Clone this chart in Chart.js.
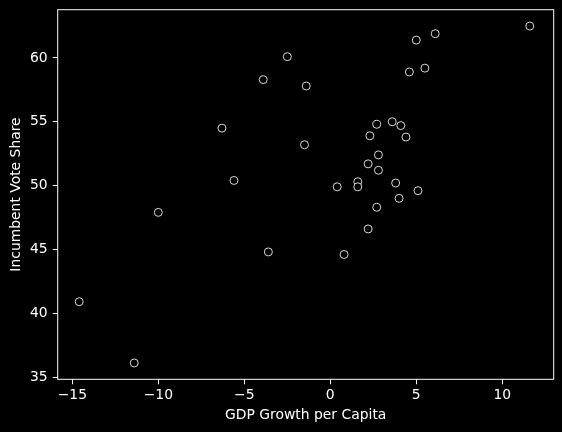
<!DOCTYPE html>
<html>
<head>
<meta charset="utf-8">
<script src="https://cdn.jsdelivr.net/npm/chart.js@4/dist/chart.umd.min.js"></script>
<style>
  html, body { margin: 0; padding: 0; background: #000; }
  #wrap { width: 562px; height: 432px; }
</style>
</head>
<body>
<div id="wrap"><canvas id="chart" width="562" height="432"></canvas></div>
<script>
// GDP growth per capita vs incumbent vote share
const gdpGrowth = [
  11.6, 6.1, 5.0, 5.5, 4.6, -2.5, -3.9, -1.4,
  2.7, 3.6, 4.1, 2.3, 4.4, -1.5, 2.8, 2.2,
  2.8, 0.4, 1.6, 1.6, 3.8, 5.1, 4.0, 2.7,
  2.2, 0.8, -6.3, -5.6, -10.0, -3.6, -14.6, -11.4
];
const voteShare = [
  62.5, 61.9, 61.4, 59.2, 58.9, 60.1, 58.3, 57.8,
  54.8, 55.0, 54.7, 53.9, 53.8, 53.2, 52.4, 51.7,
  51.2, 49.9, 50.3, 49.9, 50.2, 49.6, 49.0, 48.3,
  46.6, 44.6, 54.5, 50.4, 47.9, 44.8, 40.9, 36.1
];
const xTicks = [-15, -10, -5, 0, 5, 10];
const yTicks = [35, 40, 45, 50, 55, 60];

const fontFamily = 'DejaVu Sans';
const fontSize = 13.9;

// Matplotlib-style frame around the plot area
const framePlugin = {
  id: 'frame',
  afterDatasetsDraw(chart) {
    const { ctx, chartArea } = chart;
    ctx.save();
    ctx.strokeStyle = '#ffffff';
    ctx.lineWidth = 1;
    ctx.strokeRect(chartArea.left, chartArea.top,
      chartArea.right - chartArea.left, chartArea.bottom - chartArea.top);
    ctx.restore();
  }
};

const minus = v => String(v).replace('-', '\u2212');

document.addEventListener('DOMContentLoaded', () => {
  const ctx = document.getElementById('chart');
  new Chart(ctx, {
    type: 'scatter',
    data: {
      datasets: [{
        data: gdpGrowth.map((x, i) => ({ x: x, y: voteShare[i] })),
        backgroundColor: '#000000',
        borderColor: '#d8d8d8',
        borderWidth: 1,
        pointRadius: 4,
        pointHoverRadius: 4
      }]
    },
    options: {
      responsive: false,
      animation: false,
      events: [],
      layout: { padding: { top: 9.7, right: 8.3, left: 0, bottom: 0 } },
      plugins: {
        legend: { display: false },
        tooltip: { enabled: false }
      },
      scales: {
        x: {
          type: 'linear',
          min: -15.85,
          max: 12.99,
          afterFit: (s) => {
            s.height = 52.7;
            s.paddingLeft = 0;
            s.paddingRight = 0;
          },
          afterBuildTicks: (s) => { s.ticks = xTicks.map(v => ({ value: v })); },
          border: { display: false },
          grid: {
            drawOnChartArea: false,
            drawTicks: true,
            tickLength: 5,
            color: '#ffffff',
            tickColor: '#ffffff'
          },
          ticks: {
            includeBounds: false,
            color: '#ffffff',
            padding: 3,
            maxRotation: 0,
            font: { family: fontFamily, size: fontSize },
            callback: (v) => minus(v)
          },
          title: {
            display: true,
            text: 'GDP Growth per Capita',
            color: '#ffffff',
            font: { family: fontFamily, size: fontSize },
            padding: { top: 0, bottom: 8.4 }
          }
        },
        y: {
          type: 'linear',
          min: 34.82,
          max: 63.78,
          afterFit: (s) => {
            s.width = 57.7;
            s.paddingTop = 0;
            s.paddingBottom = 0;
          },
          afterBuildTicks: (s) => { s.ticks = yTicks.map(v => ({ value: v })); },
          border: { display: false },
          grid: {
            drawOnChartArea: false,
            drawTicks: true,
            tickLength: 5,
            color: '#ffffff',
            tickColor: '#ffffff'
          },
          ticks: {
            includeBounds: false,
            color: '#ffffff',
            padding: 5,
            font: { family: fontFamily, size: fontSize },
            callback: (v) => minus(v)
          },
          title: {
            display: true,
            text: 'Incumbent Vote Share',
            color: '#ffffff',
            font: { family: fontFamily, size: fontSize },
            padding: { top: 7.7, bottom: 0 }
          }
        }
      }
    },
    plugins: [framePlugin]
  });
});
</script>
</body>
</html>
